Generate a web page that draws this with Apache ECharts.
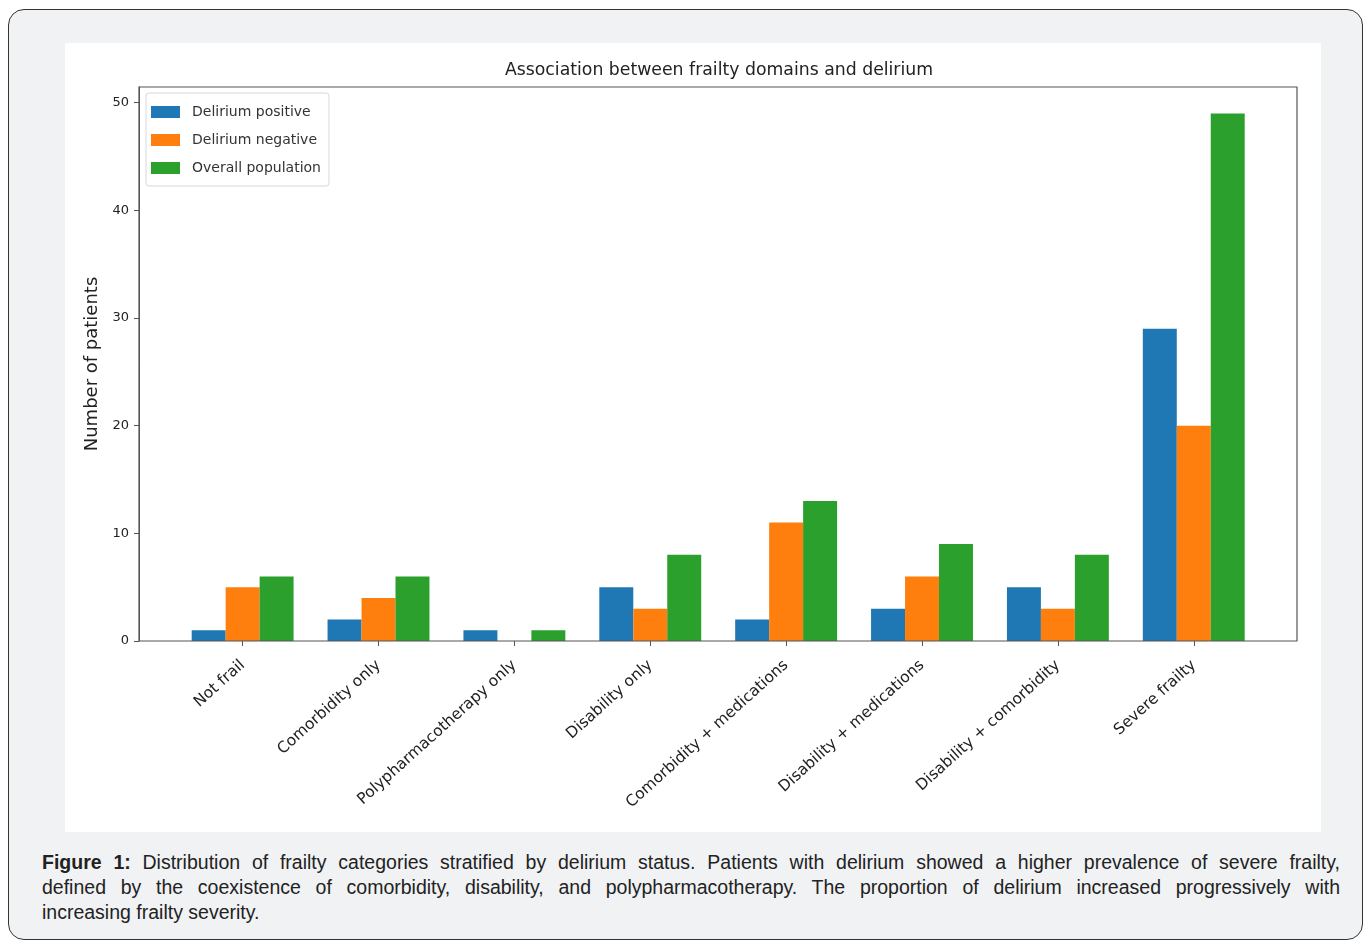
<!DOCTYPE html>
<html>
<head>
<meta charset="utf-8">
<script src="https://cdn.jsdelivr.net/npm/echarts@6/dist/echarts.min.js"></script>
<style>
  html, body { margin: 0; padding: 0; background: #fff; width: 1364px; height: 946px; overflow: hidden; }
  #frame { position: absolute; left: 8px; top: 9px; width: 1353px; height: 929px; border: 1px solid #333; border-radius: 16px; background: #f1f2f4; }
  #chart { position: absolute; left: 65px; top: 43px; width: 1256px; height: 789px; background: #fff; }
  #caption { position: absolute; left: 42px; top: 850px; width: 1298px; font-family: "Liberation Sans", Arial, sans-serif; font-size: 19.5px; line-height: 25px; color: #222; }
  #caption span { display: block; text-align: justify; text-align-last: justify; white-space: nowrap; }
  #caption span.last { text-align-last: left; }
</style>
</head>
<body>
<div id="frame"></div>
<div id="chart"></div>
<div id="caption"><span><b>Figure 1:</b> Distribution of frailty categories stratified by delirium status. Patients with delirium showed a higher prevalence of severe frailty,</span><span>defined by the coexistence of comorbidity, disability, and polypharmacotherapy. The proportion of delirium increased progressively with</span><span class="last">increasing frailty severity.</span></div>
<script>
// categories + counts
var categories = ['Not frail', 'Comorbidity only', 'Polypharmacotherapy only', 'Disability only',
    'Comorbidity + medications', 'Disability + medications', 'Disability + comorbidity', 'Severe frailty'];
var deliriumPositive = [1, 2, 1, 5, 2, 3, 5, 29];
var deliriumNegative = [5, 4, 0, 3, 11, 6, 3, 20];
var overallPopulation = [6, 6, 1, 8, 13, 9, 8, 49];
var yTicks = [0, 10, 20, 30, 40, 50];

var FONT = '"DejaVu Sans", sans-serif';
// plot frame (matplotlib axes box), chart coords
var frameL = 74, frameR = 1232, frameT = 44, frameB = 598;

var myChart = echarts.init(document.getElementById('chart'));

function barSeries(name, data, color) {
    return {
        name: name,
        type: 'bar',
        data: data,
        barWidth: '25%',
        barGap: '0%',
        animation: false,
        itemStyle: { color: color }
    };
}

myChart.setOption({
    backgroundColor: '#fff',
    title: {
        text: 'Association between frailty domains and delirium',
        left: 649, top: 14, textAlign: 'center',
        textStyle: { fontFamily: FONT, fontSize: 17.3, fontWeight: 'normal', color: '#222' }
    },
    legend: {
        orient: 'vertical',
        left: 81, top: 50,
        padding: [12, 8, 11, 5],
        itemGap: 14,
        itemWidth: 29, itemHeight: 12,
        borderColor: '#d8d8d8', borderWidth: 1, borderRadius: 3,
        backgroundColor: '#fff',
        icon: 'rect',
        textStyle: { fontFamily: FONT, fontSize: 14, color: '#333', padding: [0, 0, 0, 7] },
        data: ['Delirium positive', 'Delirium negative', 'Overall population']
    },
    grid: {
        left: 109.7, width: 1087, top: frameT, bottom: 789 - frameB,
        containLabel: false
    },
    xAxis: {
        type: 'category',
        data: categories,
        axisLine: { show: false },
        axisTick: { show: true, alignWithLabel: true, length: 5, lineStyle: { color: '#555' } },
        axisLabel: { rotate: 42, margin: 22, fontFamily: FONT, fontSize: 15.5, color: '#222' },
        splitLine: { show: false }
    },
    yAxis: {
        type: 'value',
        min: 0, max: 51.45,
        offset: 35.7,
        name: 'Number of patients',
        nameLocation: 'middle',
        nameGap: 24,
        nameTextStyle: { fontFamily: FONT, fontSize: 18, color: '#222' },
        axisLine: { show: true, lineStyle: { color: '#555' } },
        axisTick: { show: true, length: 5, customValues: yTicks, lineStyle: { color: '#555' } },
        axisLabel: { customValues: yTicks, margin: 10, fontFamily: FONT, fontSize: 13, color: '#222' },
        splitLine: { show: false }
    },
    graphic: [{
        type: 'rect',
        silent: true,
        z: 100,
        shape: { x: frameL, y: frameT, width: frameR - frameL, height: frameB - frameT },
        style: { fill: null, stroke: '#555', lineWidth: 1.2 }
    }],
    series: [
        barSeries('Delirium positive', deliriumPositive, '#1f77b4'),
        barSeries('Delirium negative', deliriumNegative, '#ff7f0e'),
        barSeries('Overall population', overallPopulation, '#2ca02c')
    ]
});
</script>
</body>
</html>
